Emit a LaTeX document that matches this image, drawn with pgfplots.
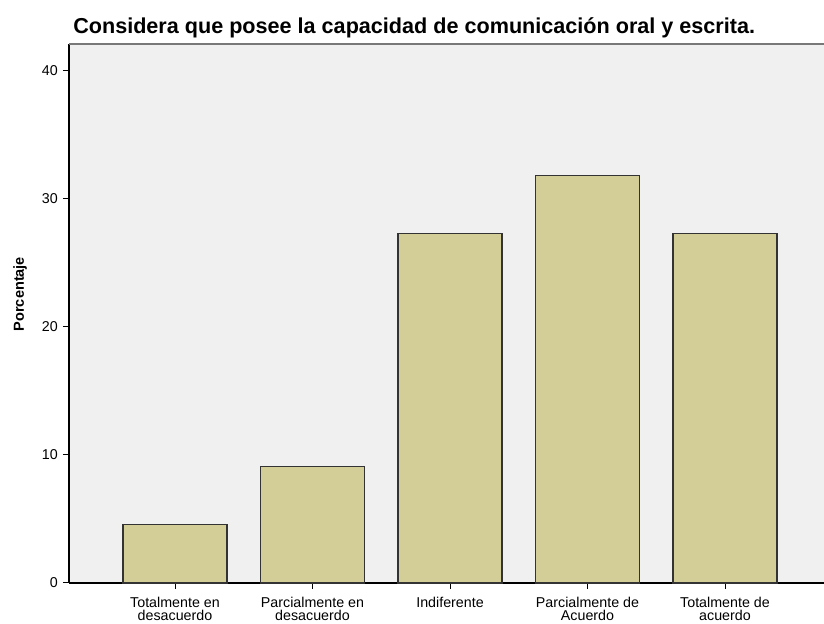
\documentclass[border=0pt]{standalone}
\usepackage{fontspec}
\setmainfont{Liberation Sans}
\usepackage{pgfplots}
\pgfplotsset{compat=1.18}
\definecolor{barfill}{RGB}{211,206,151}
\definecolor{bgc}{RGB}{240,240,240}
\definecolor{topline}{RGB}{120,120,120}
\begin{document}
\begin{tikzpicture}[x=0.75pt,y=0.75pt]
\useasboundingbox (0,0) rectangle (824,624);
\begin{axis}[
  at={(51.75pt,30.75pt)}, anchor=south west,
  scale only axis, width=566.25pt, height=404.25pt,
  xmin=-0.771, xmax=4.72, ymin=0, ymax=42.1,
  axis x line*=bottom, axis y line*=left,
  axis line style={-, black, line width=0.9pt},
  axis background/.style={fill=bgc},
  ytick={0,10,20,30,40},
  xtick={0,1,2,3,4},
  xticklabels={{Totalmente en\\desacuerdo},{Parcialmente en\\desacuerdo},{Indiferente},{Parcialmente de\\Acuerdo},{Totalmente de\\acuerdo}},
  xticklabel style={align=center, anchor=north, inner sep=0pt, yshift=-6pt, font=\fontsize{10.7}{10}\selectfont},
  yticklabel style={anchor=east, inner sep=0pt, xshift=-3.75pt, font=\fontsize{10.7}{12}\selectfont},
  /pgf/number format/assume math mode=true,
  tick align=outside, major tick length=4.5pt,
  tick style={black, line width=0.75pt},
  every axis y label/.style={at={(axis description cs:-0.0649,0.536)}, rotate=90, anchor=center, font=\bfseries\fontsize{10.9}{12}\selectfont},
  ylabel={Porcentaje},
  clip=false,
]
\addplot[ybar, bar width=78pt, fill=barfill, draw=black!80, line width=0.9pt] coordinates {(0,4.55) (1,9.09) (2,27.27) (3,31.82) (4,27.27)};
\draw[topline, line width=1.5pt] (rel axis cs:0,1) -- (rel axis cs:1,1);
\end{axis}
\node[anchor=base west, font=\bfseries\fontsize{16.2}{19}\selectfont, inner sep=0pt] at (73,590) {Considera que posee la capacidad de comunicación oral y escrita.};
\end{tikzpicture}
\end{document}
